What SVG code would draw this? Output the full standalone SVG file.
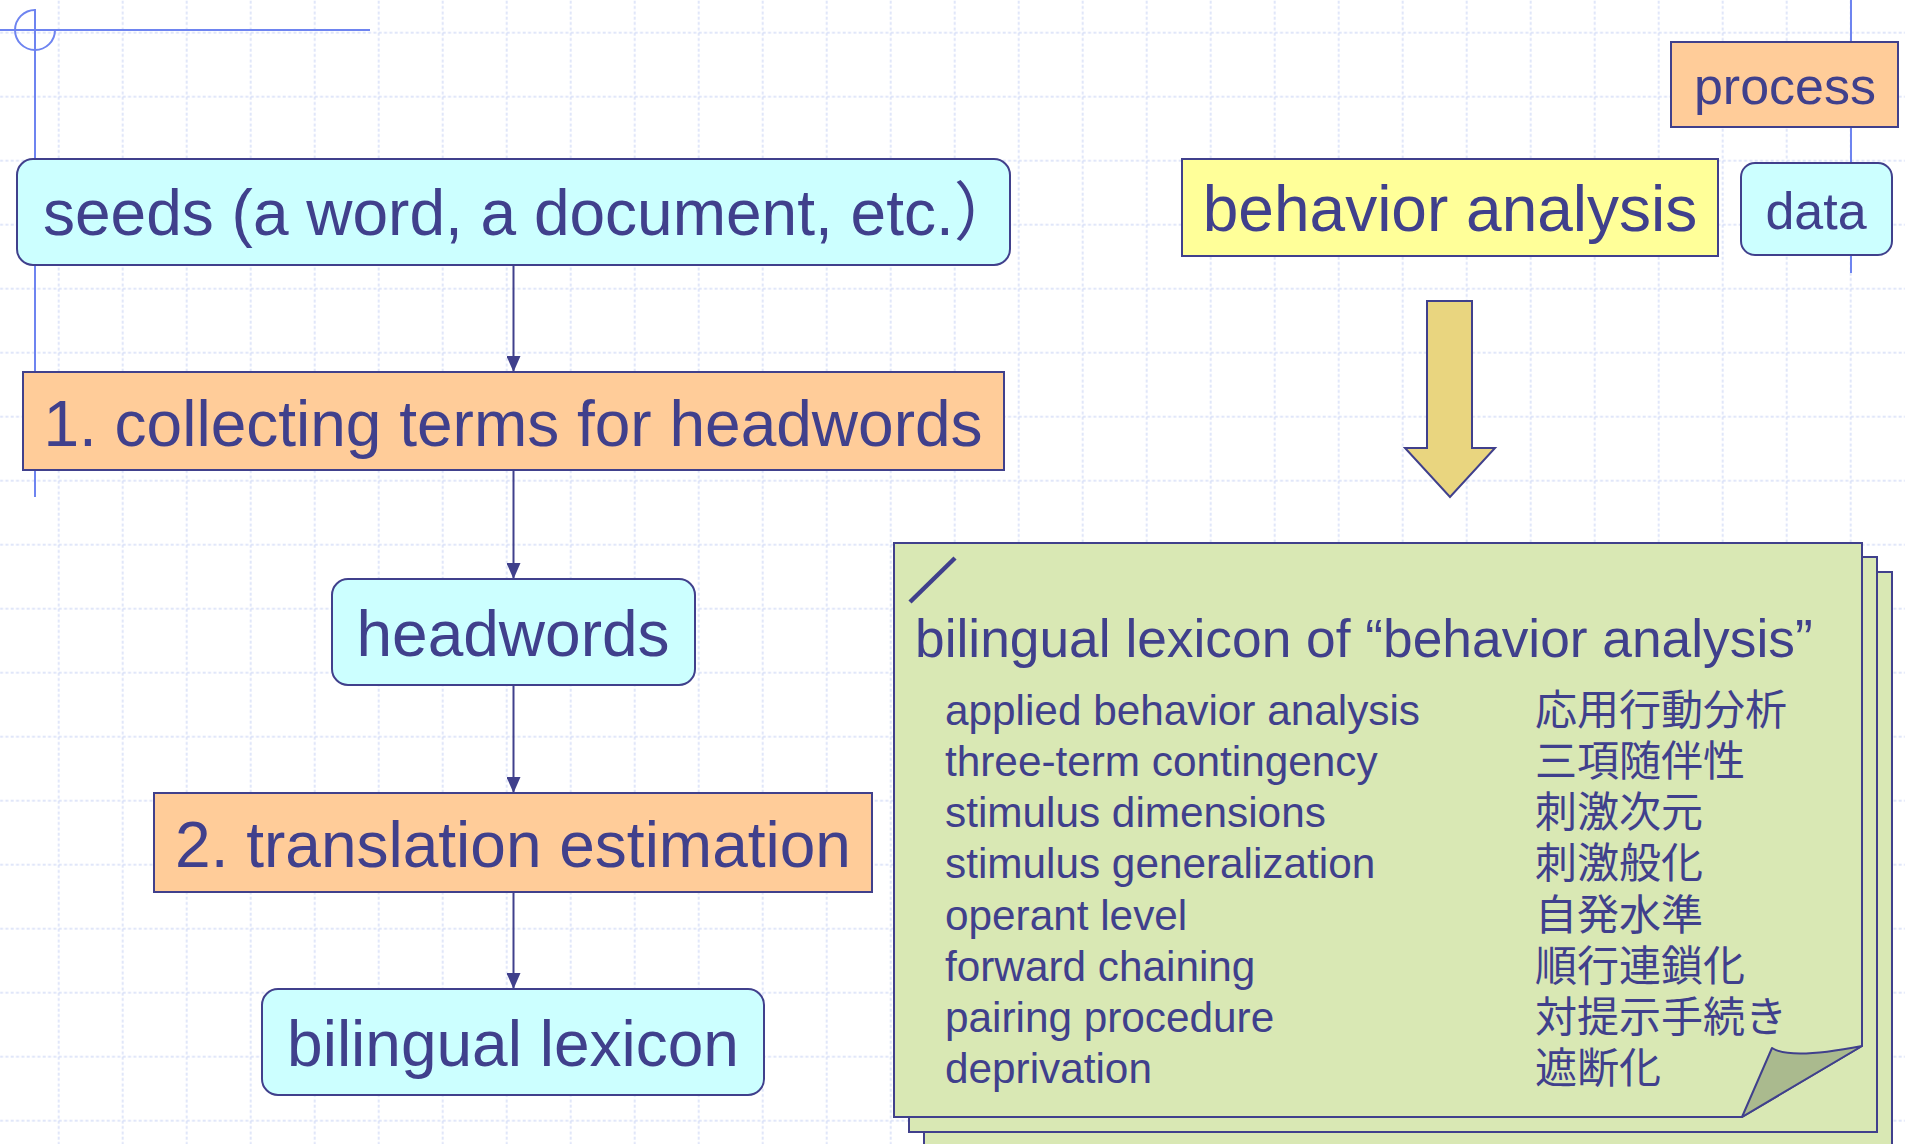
<svg xmlns="http://www.w3.org/2000/svg" width="1905" height="1144" viewBox="0 0 1905 1144">
<style>
  .t { font-family: "Liberation Sans", Arial, "Noto Sans CJK JP", sans-serif; fill: #40408C; }
  .jp { font-family: "Noto Sans CJK JP", "Liberation Sans", sans-serif; fill: #40408C; font-size: 42px; }
  .en { font-size: 42.3px; }
  .big { font-size: 64px; text-anchor: middle; }
  .mid { font-size: 52px; text-anchor: middle; }
  .data { fill: #CCFFFF; stroke: #40408C; stroke-width: 2; }
  .proc { fill: #FFCC99; stroke: #40408C; stroke-width: 2; }
  .conn { stroke: #40408C; stroke-width: 2; fill: none; }
  .deco { stroke: #6E84F0; stroke-width: 2; fill: none; }
  .page { fill: #D9E8B4; stroke: #40408C; stroke-width: 2; }
</style>
<defs>
  <pattern id="grid" patternUnits="userSpaceOnUse" x="26.7" y="0.7" width="64" height="64">
    <line x1="32" y1="0" x2="32" y2="64" stroke="#D6DEF7" stroke-width="1.5" stroke-dasharray="3 2.333"/>
    <line x1="0" y1="32" x2="64" y2="32" stroke="#D6DEF7" stroke-width="1.5" stroke-dasharray="3 2.333"/>
  </pattern>
  <marker id="ah" markerUnits="userSpaceOnUse" markerWidth="16" markerHeight="14" refX="16" refY="7" orient="auto">
    <path d="M0,0 L16,7 L0,14 Z" fill="#40408C"/>
  </marker>
</defs>
<rect x="0" y="0" width="1905" height="1144" fill="#FFFFFF"/>
<rect x="0" y="0" width="1905" height="1144" fill="url(#grid)"/>

<g id="decoration">
  <line class="deco" x1="0" y1="30" x2="370" y2="30"/>
  <line class="deco" x1="35" y1="9" x2="35" y2="497"/>
  <path class="deco" d="M35,10 A20,20 0 1,0 55,30"/>
  <line class="deco" x1="1851" y1="0" x2="1851" y2="273"/>
</g>

<g id="connectors">
  <line class="conn" x1="513.5" y1="265" x2="513.5" y2="372" marker-end="url(#ah)"/>
  <line class="conn" x1="513.5" y1="470" x2="513.5" y2="579" marker-end="url(#ah)"/>
  <line class="conn" x1="513.5" y1="685" x2="513.5" y2="793" marker-end="url(#ah)"/>
  <line class="conn" x1="513.5" y1="892" x2="513.5" y2="989" marker-end="url(#ah)"/>
</g>

<g id="seeds">
  <rect class="data" x="17" y="159" width="993" height="106" rx="16" ry="16"/>
  <text class="t" font-size="64" x="43" y="235">seeds (a word, a document, etc.）</text>
</g>
<g id="collecting">
  <rect class="proc" x="23" y="372" width="981" height="98"/>
  <text class="t big" x="513" y="446">1. collecting terms for headwords</text>
</g>
<g id="headwords">
  <rect class="data" x="332" y="579" width="363" height="106" rx="16" ry="16"/>
  <text class="t big" x="513" y="656">headwords</text>
</g>
<g id="translation">
  <rect class="proc" x="154" y="793" width="718" height="99"/>
  <text class="t big" x="513" y="867">2. translation estimation</text>
</g>
<g id="bilingual-lexicon">
  <rect class="data" x="262" y="989" width="502" height="106" rx="16" ry="16"/>
  <text class="t big" x="513" y="1066">bilingual lexicon</text>
</g>

<g id="legend-process">
  <rect class="proc" x="1671" y="42" width="227" height="85"/>
  <text class="t mid" x="1785" y="104">process</text>
</g>
<g id="legend-data">
  <rect class="data" x="1741" y="163" width="151" height="92" rx="14" ry="14"/>
  <text class="t mid" x="1816" y="229">data</text>
</g>

<g id="behavior-analysis">
  <rect x="1182" y="159" width="536" height="97" fill="#FFFF99" stroke="#40408C" stroke-width="2"/>
  <text class="t big" x="1450" y="231">behavior analysis</text>
</g>

<g id="big-arrow">
  <path d="M1427,301 H1472 V448 H1495 L1450,497 L1405,448 H1427 Z" fill="#E9D57F" stroke="#40408C" stroke-width="2" stroke-linejoin="miter"/>
</g>

<g id="lexicon-note">
  <rect class="page" x="924" y="572" width="968" height="590"/>
  <rect class="page" x="909" y="557" width="968" height="575"/>
  <path class="page" d="M894,543 H1862 V1046 L1742,1117 H894 Z"/>
  <path d="M1742,1117 L1772,1048 Q1790,1060 1862,1046 Z" fill="#AABA8E" stroke="#40408C" stroke-width="2" stroke-linejoin="round"/>
  <line x1="910" y1="602" x2="955" y2="558" stroke="#40408C" stroke-width="4.5"/>
  <text class="t" x="915" y="657" font-size="53.3">bilingual lexicon of “behavior analysis”</text>
  <text class="t en" x="945" y="725">applied behavior analysis</text>
  <text class="t en" x="945" y="776">three-term contingency</text>
  <text class="t en" x="945" y="827">stimulus dimensions</text>
  <text class="t en" x="945" y="878">stimulus generalization</text>
  <text class="t en" x="945" y="930">operant level</text>
  <text class="t en" x="945" y="981">forward chaining</text>
  <text class="t en" x="945" y="1032">pairing procedure</text>
  <text class="t en" x="945" y="1083">deprivation</text>
  <text class="jp" x="1535" y="725">応用行動分析</text>
  <text class="jp" x="1535" y="776">三項随伴性</text>
  <text class="jp" x="1535" y="827">刺激次元</text>
  <text class="jp" x="1535" y="878">刺激般化</text>
  <text class="jp" x="1535" y="930">自発水準</text>
  <text class="jp" x="1535" y="981">順行連鎖化</text>
  <text class="jp" x="1535" y="1032">対提示手続き</text>
  <text class="jp" x="1535" y="1083">遮断化</text>
</g>
</svg>
